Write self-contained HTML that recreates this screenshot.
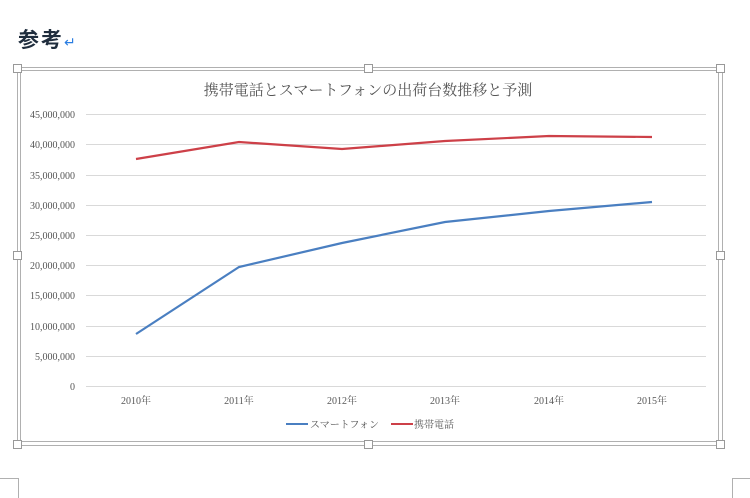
<!DOCTYPE html>
<html><head><meta charset="utf-8"><style>
body{margin:0;background:#fff;width:750px;height:498px;overflow:hidden;position:relative;font-family:"Liberation Serif","Noto Serif CJK SC",serif}
.h{position:absolute;left:18px;top:24px;font:bold 21px "Noto Sans CJK JP",sans-serif;color:#1f2d3d;letter-spacing:2px}
.h span{color:#2a7de1;font-size:14px;font-weight:normal}
</style></head><body>
<div class="h">参考<span>↵</span></div>
<svg width="750" height="498" style="position:absolute;left:0;top:0">
<g fill="none" stroke="#b0b0b0" stroke-width="1">
<rect x="17.5" y="67.5" width="705" height="378"/>
<rect x="20.5" y="70.5" width="698" height="371"/>
<path d="M0 478.5H18.5V498M750 478.5H732.5V498"/>
</g>
<g fill="#fff" stroke="#999">
<rect x="13.5" y="64.5" width="8" height="8"/><rect x="364.5" y="64.5" width="8" height="8"/><rect x="716.5" y="64.5" width="8" height="8"/>
<rect x="13.5" y="251.5" width="8" height="8"/><rect x="716.5" y="251.5" width="8" height="8"/>
<rect x="13.5" y="440.5" width="8" height="8"/><rect x="364.5" y="440.5" width="8" height="8"/><rect x="716.5" y="440.5" width="8" height="8"/>
</g>
<text x="368" y="95" text-anchor="middle" font-size="15" fill="#555">携帯電話とスマートフォンの出荷台数推移と予測</text>
<g stroke="#d9d9d9" stroke-width="1">
<path d="M86 114.5H706M86 144.5H706M86 175.5H706M86 205.5H706M86 235.5H706M86 265.5H706M86 295.5H706M86 326.5H706M86 356.5H706M86 386.5H706"/>
</g>
<g font-size="10" fill="#555" text-anchor="end">
<text x="75" y="118">45,000,000</text><text x="75" y="148">40,000,000</text><text x="75" y="179">35,000,000</text><text x="75" y="209">30,000,000</text><text x="75" y="239">25,000,000</text><text x="75" y="269">20,000,000</text><text x="75" y="299">15,000,000</text><text x="75" y="330">10,000,000</text><text x="75" y="360">5,000,000</text><text x="75" y="390">0</text>
</g>
<g font-size="10" fill="#555" text-anchor="middle">
<text x="136" y="404">2010年</text><text x="239" y="404">2011年</text><text x="342" y="404">2012年</text><text x="445" y="404">2013年</text><text x="549" y="404">2014年</text><text x="652" y="404">2015年</text>
</g>
<polyline fill="none" stroke="#4a7fc1" stroke-width="2.2" points="136,334 239,267 342,243 445,222 549,211 652,202"/>
<polyline fill="none" stroke="#cd4048" stroke-width="2.2" points="136,159 239,142 342,149 445,141 549,136 652,137"/>
<line x1="286" y1="424" x2="308" y2="424" stroke="#4a7fc1" stroke-width="2"/>
<text x="310" y="428" font-size="10" fill="#555">スマートフォン</text>
<line x1="391" y1="424" x2="413" y2="424" stroke="#cd4048" stroke-width="2"/>
<text x="414" y="428" font-size="10" fill="#555">携帯電話</text>
</svg>
</body></html>
